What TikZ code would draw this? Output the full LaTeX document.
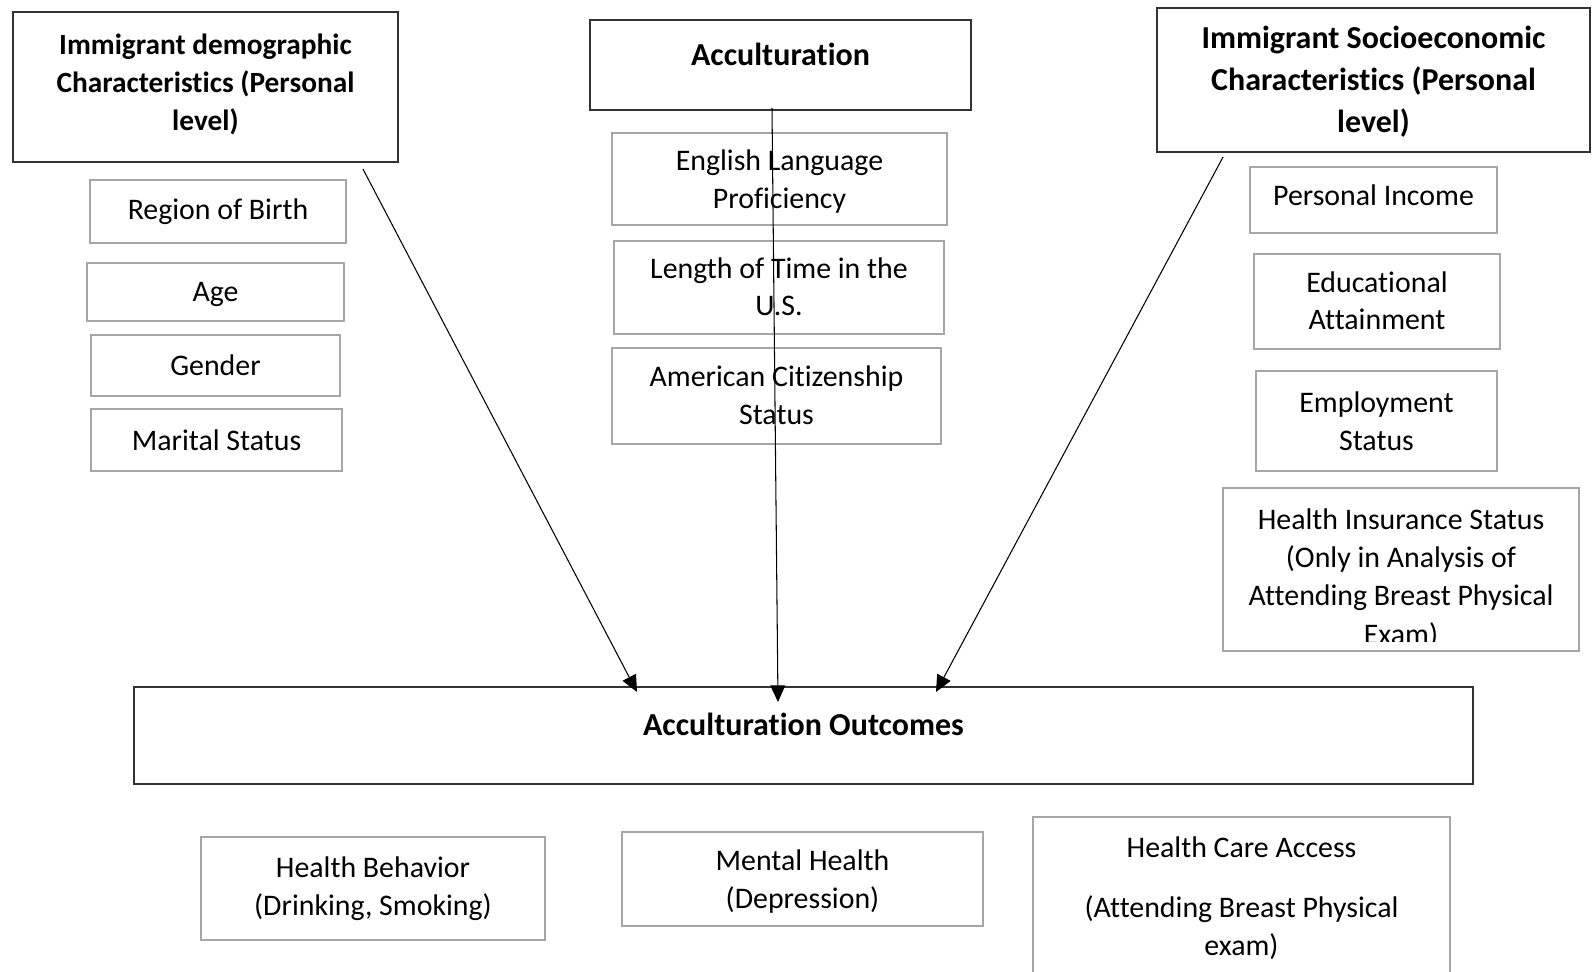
\documentclass[tikz,border=0pt]{standalone}
\usepackage{fontspec}
\setmainfont{Carlito}[Ligatures=NoCommon]
\usepackage{tikz}
\usetikzlibrary{positioning,calc}
\usetikzlibrary{arrows.meta}
\tikzset{>={Triangle[length=9.5pt,width=8.5pt]}}
\tikzset{
	header/.style={draw=black!80,line width=1.1pt,anchor=center,rectangle,align=center,font=\fontsize{18.2pt}{24pt}\selectfont\bfseries},
	item/.style={draw=black!35,line width=1.1pt,anchor=center,rectangle,align=center,font=\fontsize{17pt}{21.6pt}\selectfont},
	line/.style={draw,->,line width=0.6pt},
}

\begin{document}
\begin{tikzpicture}[x=0.02cm,y=-0.02cm]
	\useasboundingbox (0,0) rectangle (1592,972);
	
	% Demographic characteristics
	\node[header,minimum width=7.70cm,minimum height=3.00cm,text depth=5pt,font=\fontsize{16.7pt}{21.6pt}\selectfont\bfseries] (demo) at (205.5,87) {Immigrant demographic\\Characteristics (Personal\\level)};
	\node[item,minimum width=5.12cm,minimum height=1.26cm] (region) at (218,211.5) {Region of Birth};
	\node[item,minimum width=5.14cm,minimum height=1.16cm,text depth=0pt] (age) at (215.5,292) {Age};
	\node[item,minimum width=4.98cm,minimum height=1.22cm] (gender) at (215.5,365.5) {Gender};
	\node[item,minimum width=5.02cm,minimum height=1.24cm] (marital) at (216.5,440) {Marital Status};
	
	% Acculturation
	\node[header,minimum width=7.62cm,minimum height=1.80cm,text depth=12.6pt] (accult) at (780.5,65) {Acculturation};
	\node[item,minimum width=6.70cm,minimum height=1.84cm,text depth=0pt] (english) at (779.5,179) {English Language\\Proficiency};
	\node[item,minimum width=6.60cm,minimum height=1.86cm,text depth=1pt] (length) at (779,287.5) {Length of Time in the\\U.S.};
	\node[item,minimum width=6.58cm,minimum height=1.92cm,text depth=1pt] (citizen) at (776.5,396) {American Citizenship\\Status};
	
	% Socioeconomic characteristics
	\node[header,minimum width=8.66cm,minimum height=2.88cm,text depth=0.5pt] (socio) at (1373.5,80) {Immigrant Socioeconomic\\Characteristics (Personal\\level)};
	\node[item,minimum width=4.94cm,minimum height=1.32cm,text depth=5pt] (income) at (1373.5,200) {Personal Income};
	\node[item,minimum width=4.92cm,minimum height=1.90cm,text depth=1pt] (educ) at (1377,301.5) {Educational\\Attainment};
	\node[item,minimum width=4.82cm,minimum height=2.00cm] (employ) at (1376.5,421) {Employment\\Status};
	\node[item,minimum width=7.12cm,minimum height=3.26cm,path picture={
		\clip ([yshift=0.18cm]path picture bounding box.south west) rectangle (path picture bounding box.north east);
		\node[anchor=north,align=center,inner sep=0pt,font=\fontsize{17pt}{21.8pt}\selectfont] at ([yshift=-0.16cm]path picture bounding box.north) {Health Insurance Status\\(Only in Analysis of\\Attending Breast Physical\\Exam)};
	}] (insur) at (1401,569.5) {};
	
	% Outcomes
	\node[header,minimum width=26.78cm,minimum height=1.94cm,text depth=13pt] (outc) at (803.5,735.5) {Acculturation Outcomes};
	\node[item,minimum width=6.88cm,minimum height=2.06cm] (behav) at (373,888.5) {Health Behavior\\(Drinking, Smoking)};
	\node[item,minimum width=7.22cm,minimum height=1.88cm,text depth=0pt] (mental) at (802.5,879) {Mental Health\\(Depression)};
	\node[item,minimum width=8.34cm,minimum height=3.66cm,text depth=14pt] (access) at (1241.5,908.5) {Health Care Access\\[12.6pt](Attending Breast Physical\\exam)};
	
	% Draw connections
	\draw[line] ($(demo.south east)+(-36,6)$) -- ($(outc.north)+(-166.5,6)$);
	\draw[line] ($(accult.south)+(-8.5,-3)$) -- ($(outc.north)+(-25.5,16)$);
	\draw[line] ($(socio.south west)+(67,4)$) -- ($(outc.north)+(132.5,6)$);
\end{tikzpicture}
\end{document}
